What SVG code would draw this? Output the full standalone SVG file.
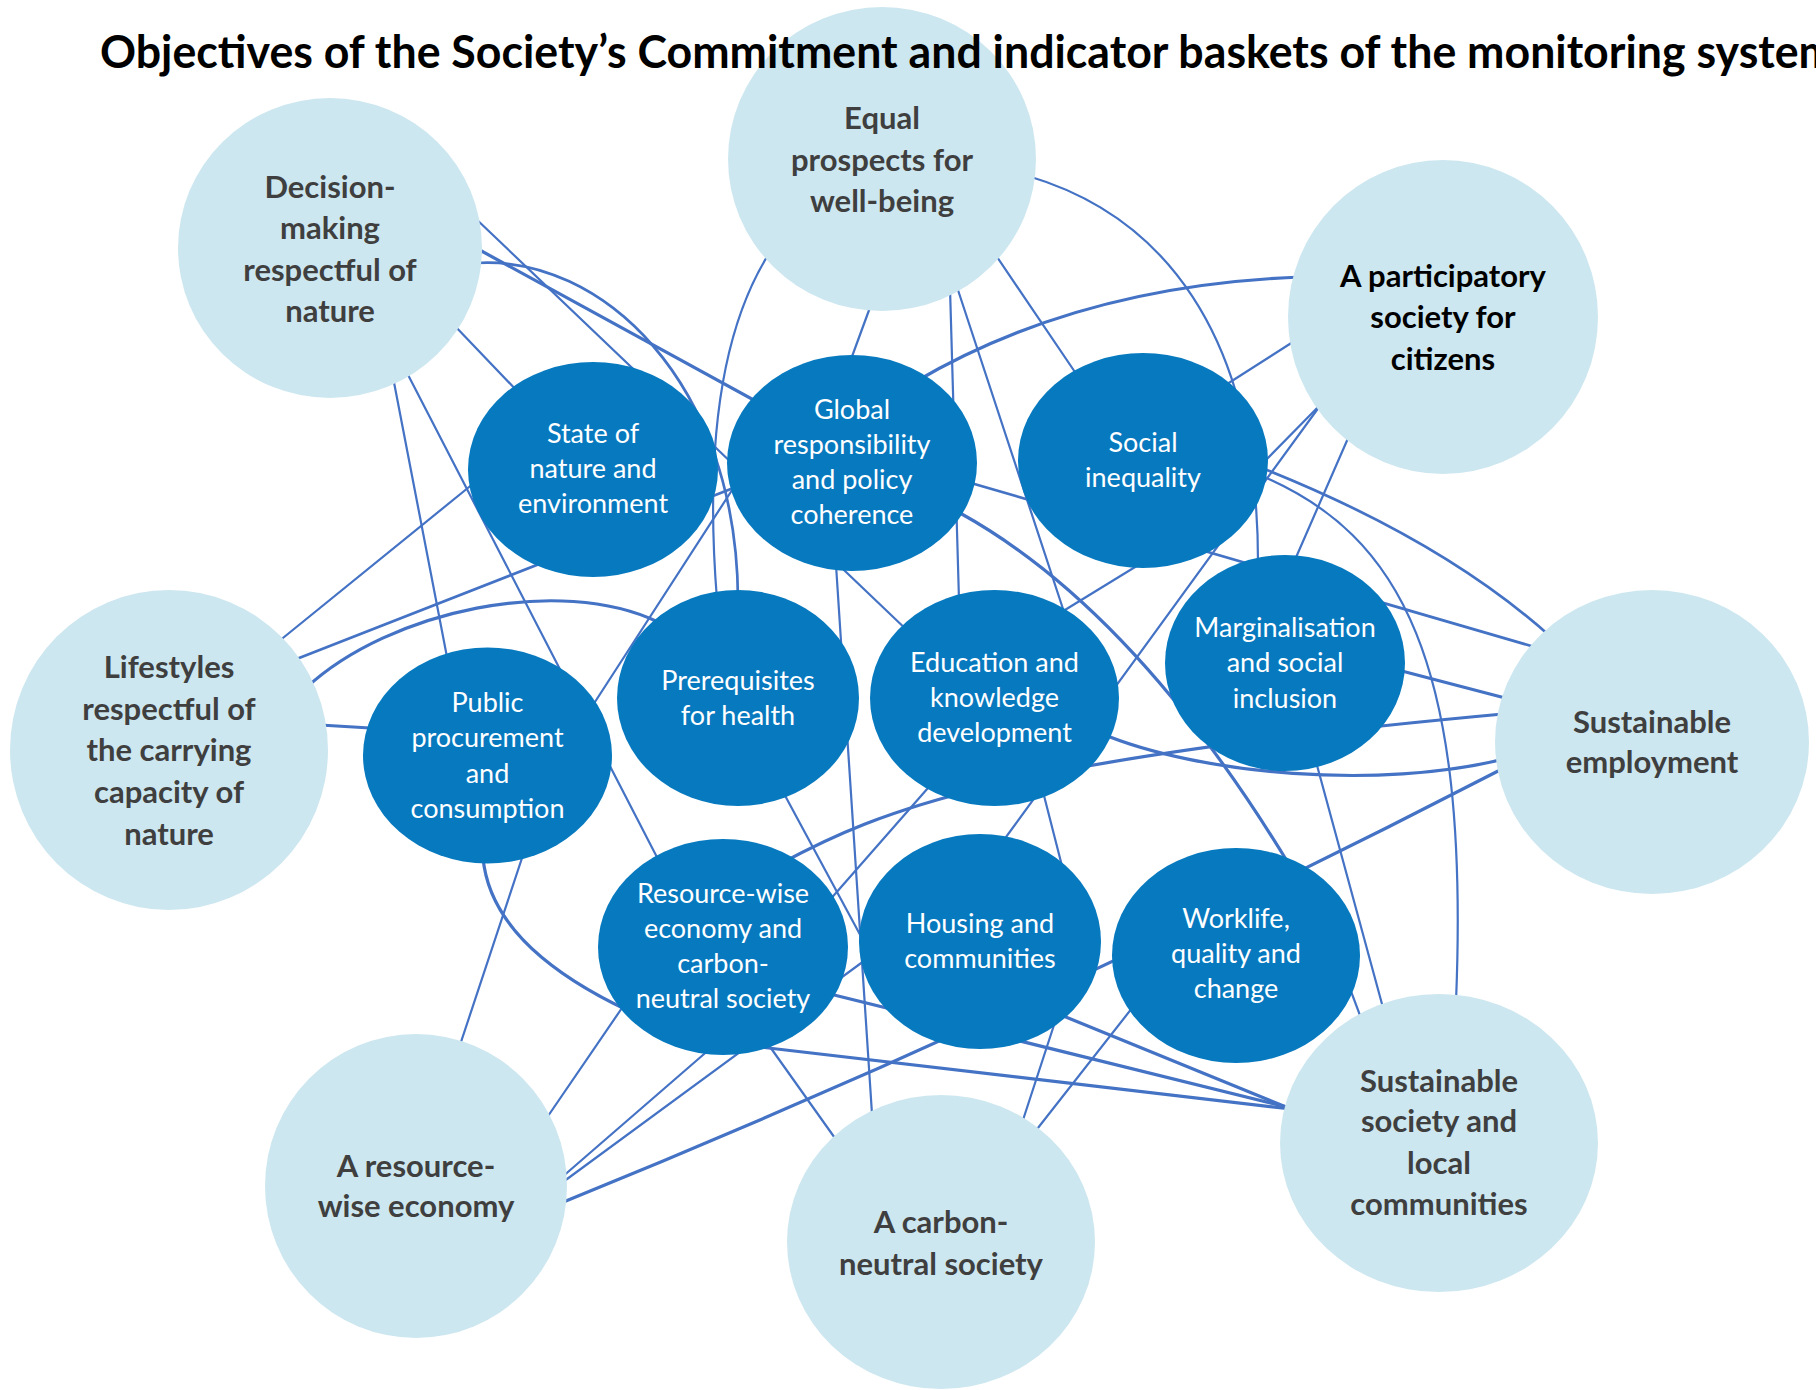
<svg xmlns="http://www.w3.org/2000/svg" width="1816" height="1390" viewBox="0 0 1816 1390">
<style>
.c{fill:none;stroke:#4472C4;stroke-width:2.2;stroke-linecap:round}
.t{stroke-width:3.2}
.m{stroke-width:2.7}
.outer{fill:#CDE7F0}
.inner{fill:#0779BF}
.ot{font-family:Lato,"Liberation Sans",sans-serif;font-weight:bold;font-size:31px;fill:#3F3F3F;text-anchor:middle}
.it{font-family:Lato,"Liberation Sans",sans-serif;font-size:27px;fill:#FFFFFF;text-anchor:middle}
.title{font-family:Lato,"Liberation Sans",sans-serif;font-weight:bold;font-size:46px;fill:#000000}
</style>
<rect width="1816" height="1390" fill="#FFFFFF"/>
<g id="connectors">
<path class="c" d="M474,217 L911,634"/>
<path class="c m" d="M476,263 C600,255 737,380 738,600"/>
<path class="c" d="M453,324 L520,394"/>
<path class="c" d="M392,372 L447,657"/>
<path class="c" d="M405,369 L661,865"/>
<path class="c" d="M770,252 C720,330 705,450 717,600"/>
<path class="c" d="M872,302 L850,362"/>
<path class="c" d="M950,288 L959,600"/>
<path class="c" d="M956,284 L1066,618"/>
<path class="c" d="M995,254 L1079,378"/>
<path class="c" d="M1028,176 C1160,215 1258,330 1258,562"/>
<path class="c" d="M1224,386 L1296,340"/>
<path class="c" d="M1322,403 L998,848"/>
<path class="c" d="M1322,403 L1262,464"/>
<path class="c" d="M1140,564 L1060,613"/>
<path class="c" d="M935,780 L828,902"/>
<path class="c" d="M1349,436 L1294,562"/>
<path class="c m" d="M1262,468 Q1443,540 1551,637"/>
<path class="c" d="M1262,476 C1400,535 1470,660 1456,1002"/>
<path class="c m" d="M964,481 L1538,648"/>
<path class="c" d="M836,565 L872,1114"/>
<path class="c" d="M278,642 L474,483"/>
<path class="c m" d="M294,660 L741,485"/>
<path class="c t" d="M306,688 C390,610 560,575 658,622"/>
<path class="c t" d="M320,725 L370,728"/>
<path class="c" d="M593,705 L736,484"/>
<path class="c" d="M782,790 L864,942"/>
<path class="c" d="M1040,780 L1062,866"/>
<path class="c" d="M1315,758 L1382,1004"/>
<path class="c t" d="M1398,670 L1509,699"/>
<path class="c" d="M1346,978 L1364,1026"/>
<path class="c" d="M1136,1003 L1034,1133"/>
<path class="c" d="M1055,1022 L1022,1123"/>
<path class="c" d="M768,1044 L837,1141"/>
<path class="c" d="M624,1005 L546,1119"/>
<path class="c" d="M711,1048 L561,1178"/>
<path class="c" d="M563,1182 L868,958"/>
<path class="c" d="M523,855 L459,1048"/>
<path class="c t" d="M476,248 L960,513 Q1135,610 1290,866"/>
<path class="c t" d="M915,382 Q1080,285 1302,277"/>
<path class="c t" d="M780,864 C880,810 1000,760 1503,714"/>
<path class="c t" d="M1100,733 C1200,775 1380,790 1504,759"/>
<path class="c t" d="M1504,768 Q1032,1012 561,1203"/>
<path class="c t" d="M483,858 C490,930 560,990 700,1040 L1291,1109"/>
<path class="c t" d="M826,993 L1291,1108"/>
<path class="c t" d="M1056,1013 L1291,1109"/>
</g>
<g id="n-decision"><ellipse class="outer" cx="330" cy="248" rx="152" ry="150"/>
<text class="ot" x="330" y="198">Decision-</text><text class="ot" x="330" y="239">making</text><text class="ot" x="330" y="281">respectful of</text><text class="ot" x="330" y="322">nature</text></g>
<g id="n-equal"><ellipse class="outer" cx="882" cy="159" rx="154" ry="152"/>
<text class="ot" x="882" y="129">Equal</text><text class="ot" x="882" y="171">prospects for</text><text class="ot" x="882" y="212">well-being</text></g>
<g id="n-participatory"><ellipse class="outer" cx="1443" cy="317" rx="155" ry="157"/>
<text class="ot" x="1443" y="287" style="fill:#000000">A participatory</text><text class="ot" x="1443" y="328" style="fill:#000000">society for</text><text class="ot" x="1443" y="370" style="fill:#000000">citizens</text></g>
<g id="n-employment"><ellipse class="outer" cx="1652" cy="742" rx="157" ry="152"/>
<text class="ot" x="1652" y="733">Sustainable</text><text class="ot" x="1652" y="773">employment</text></g>
<g id="n-society"><ellipse class="outer" cx="1439" cy="1143" rx="159" ry="149"/>
<text class="ot" x="1439" y="1092">Sustainable</text><text class="ot" x="1439" y="1132">society and</text><text class="ot" x="1439" y="1174">local</text><text class="ot" x="1439" y="1215">communities</text></g>
<g id="n-carbon"><ellipse class="outer" cx="941" cy="1242" rx="154" ry="147"/>
<text class="ot" x="941" y="1233">A carbon-</text><text class="ot" x="941" y="1275">neutral society</text></g>
<g id="n-resource"><ellipse class="outer" cx="416" cy="1186" rx="151" ry="152"/>
<text class="ot" x="416" y="1177">A resource-</text><text class="ot" x="416" y="1217">wise economy</text></g>
<g id="n-lifestyles"><ellipse class="outer" cx="169" cy="750" rx="159" ry="160"/>
<text class="ot" x="169" y="678">Lifestyles</text><text class="ot" x="169" y="720">respectful of</text><text class="ot" x="169" y="761">the carrying</text><text class="ot" x="169" y="803">capacity of</text><text class="ot" x="169" y="845">nature</text></g>
<g id="n-state"><ellipse class="inner" cx="593" cy="469.5" rx="125" ry="107.5"/>
<text class="it" x="593" y="443">State of</text><text class="it" x="593" y="478">nature and</text><text class="it" x="593" y="513">environment</text></g>
<g id="n-global"><ellipse class="inner" cx="852" cy="463" rx="125" ry="108"/>
<text class="it" x="852" y="419">Global</text><text class="it" x="852" y="454">responsibility</text><text class="it" x="852" y="489">and policy</text><text class="it" x="852" y="524">coherence</text></g>
<g id="n-social"><ellipse class="inner" cx="1143" cy="460.5" rx="125" ry="107.5"/>
<text class="it" x="1143" y="452">Social</text><text class="it" x="1143" y="487">inequality</text></g>
<g id="n-health"><ellipse class="inner" cx="738" cy="698" rx="121" ry="108"/>
<text class="it" x="738" y="690">Prerequisites</text><text class="it" x="738" y="725">for health</text></g>
<g id="n-education"><ellipse class="inner" cx="994.5" cy="698" rx="124.5" ry="108"/>
<text class="it" x="994.5" y="672">Education and</text><text class="it" x="994.5" y="707">knowledge</text><text class="it" x="994.5" y="742">development</text></g>
<g id="n-marginalisation"><ellipse class="inner" cx="1285" cy="663" rx="120" ry="108"/>
<text class="it" x="1285" y="637">Marginalisation</text><text class="it" x="1285" y="672">and social</text><text class="it" x="1285" y="708">inclusion</text></g>
<g id="n-procurement"><ellipse class="inner" cx="487.5" cy="755.5" rx="124.5" ry="108"/>
<text class="it" x="487.5" y="712">Public</text><text class="it" x="487.5" y="747">procurement</text><text class="it" x="487.5" y="783">and</text><text class="it" x="487.5" y="818">consumption</text></g>
<g id="n-resourcewise"><ellipse class="inner" cx="723" cy="947" rx="125" ry="108"/>
<text class="it" x="723" y="903">Resource-wise</text><text class="it" x="723" y="938">economy and</text><text class="it" x="723" y="973">carbon-</text><text class="it" x="723" y="1008">neutral society</text></g>
<g id="n-housing"><ellipse class="inner" cx="980" cy="941.5" rx="121" ry="107.5"/>
<text class="it" x="980" y="933">Housing and</text><text class="it" x="980" y="968">communities</text></g>
<g id="n-worklife"><ellipse class="inner" cx="1236" cy="955.5" rx="124" ry="107.5"/>
<text class="it" x="1236" y="928">Worklife,</text><text class="it" x="1236" y="963">quality and</text><text class="it" x="1236" y="998">change</text></g>
<text class="title" x="100" y="68" textLength="1736" lengthAdjust="spacingAndGlyphs">Objectives of the Society’s Commitment and indicator baskets of the monitoring system</text>
</svg>
